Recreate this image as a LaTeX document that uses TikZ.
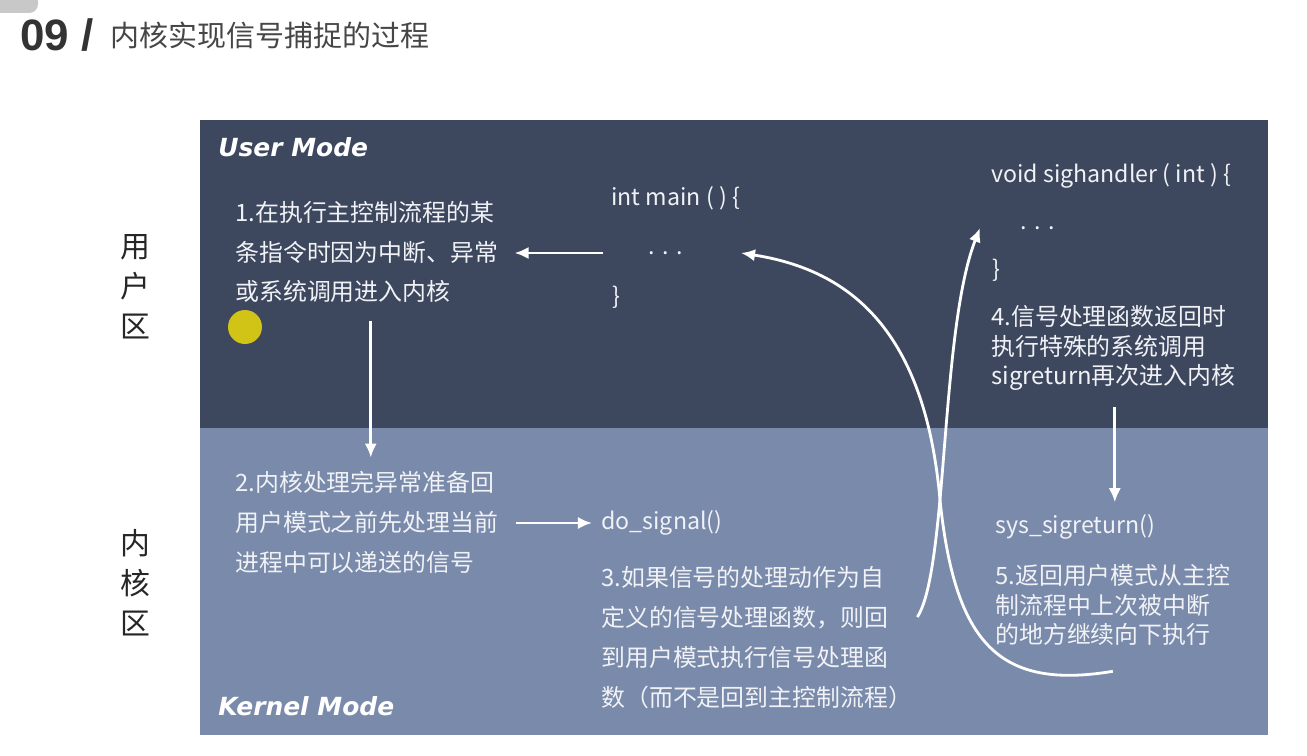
\documentclass[tikz,border=0pt]{standalone}
\usepackage{fontspec}
\setmainfont{Noto Sans CJK SC}
\newfontfamily\modefont{DejaVu Sans}
\newfontfamily\numfont{Liberation Sans}
\usepackage{tikz}
\usetikzlibrary{arrows.meta,positioning,calc}
\definecolor{UserBg}{RGB}{61,71,94}
\definecolor{KernelBg}{RGB}{122,138,170}
\definecolor{NoteWhite}{RGB}{240,242,246}
\definecolor{TitleDark}{RGB}{51,51,51}
\definecolor{TitleGray}{RGB}{70,70,70}
\definecolor{MarkYellow}{RGB}{210,196,22}
\definecolor{CornerGray}{RGB}{200,200,200}
\tikzset{
  modelbl/.style={font=\modefont\bfseries\itshape\fontsize{14.2}{16}\selectfont,
    text=white,anchor=west,inner sep=0},
  stepnote/.style={font=\fontsize{13.6}{22.7}\selectfont,text=NoteWhite,
    align=left,anchor=west,inner sep=0},
  tightnote/.style={stepnote,font=\fontsize{13.6}{17}\selectfont},
  codeln/.style={font=\fontsize{13.2}{16}\selectfont,text=NoteWhite,
    anchor=west,inner sep=0},
  zonelbl/.style={font=\fontsize{17}{22.7}\selectfont,text=black!85,
    align=center,inner sep=0},
  flow/.style={-{Latex[length=8pt,width=7pt]},line width=1.6pt,white}
}

\begin{document}
\begin{tikzpicture}[x=0.02cm,y=-0.02cm]

\fill[white] (0,0) rectangle (1307,756);
\useasboundingbox (0,0) rectangle (1307,756);
\fill[CornerGray,rounded corners=5pt] (-12,-12) rectangle (38,13);

% title
\node[anchor=west,inner sep=0,text=TitleDark,
  font=\numfont\bfseries\fontsize{25}{28}\selectfont] (num) at (20,35) {09 /};
\node[anchor=west,inner sep=0,text=TitleGray,
  font=\fontsize{16.5}{20}\selectfont] (ttl) at (110,35) {内核实现信号捕捉的过程};

% the two modes
\fill[UserBg] (200,120) rectangle (1268,428);
\fill[KernelBg] (200,428) rectangle (1268,735);
\node[modelbl] (um) at (218,147) {User Mode};
\node[modelbl] (km) at (218,706) {Kernel Mode};

\node[zonelbl] (uz) at (135,287) {用\\户\\区};
\node[zonelbl] (kz) at (135,583) {内\\核\\区};

\fill[MarkYellow] (245,327) circle (0.34cm);

% user side
\node[stepnote] (t1) at (235,252) {1.在执行主控制流程的某\\条指令时因为中断、异常\\或系统调用进入内核};
\node[codeln] (mhead) at (611,198) {int main ( ) \{};
\node[codeln] (mdots) at (648,253) {.\,\,.\,\,.};
\node[codeln] (mclose) at (612,297) {\}};

\node[codeln] (hhead) at (991,176) {void sighandler ( int ) \{};
\node[codeln] (hdots) at (1020,228) {.\,\,.\,\,.};
\node[codeln] (hclose) at (992,270) {\}};
\node[tightnote] (t4) at (991,348) {4.信号处理函数返回时\\执行特殊的系统调用\\sigreturn再次进入内核};

% kernel side
\node[stepnote] (t2) at (235,522) {2.内核处理完异常准备回\\用户模式之前先处理当前\\进程中可以递送的信号};
\node[codeln] (dosig) at (601,523) {do\_signal()};
\node[stepnote] (t3) at (601,637.5) {3.如果信号的处理动作为自\\定义的信号处理函数，则回\\到用户模式执行信号处理函\\数（而不是回到主控制流程）};
\node[codeln] (sysret) at (995,527) {sys\_sigreturn()};
\node[tightnote] (t5) at (995,605) {5.返回用户模式从主控\\制流程中上次被中断\\的地方继续向下执行};

% arrows
\draw[flow] ([xshift=-0.9cm]mdots.west) -- ([xshift=0.32cm]t1.east |- mdots.west);
\draw[flow] ([xshift=0.08cm,yshift=-0.35cm]t1.south) -- ([xshift=0.08cm,yshift=0.26cm]t2.north);
\draw[flow] ([xshift=0.34cm]t2.east |- dosig.west) -- ([xshift=-0.18cm]dosig.west);
\draw[flow] ([shift={(0.1cm,0.41cm)}]t3.east) .. controls (948,570) and (940,330) .. ([xshift=-0.8cm]hdots.west);
\draw[flow] ([xshift=0.03cm,yshift=-0.32cm]t4.south) -- ([xshift=0.03cm,yshift=0.24cm]t4.south |- sysret.north);
\draw[flow] ([yshift=-0.5cm]t5.south) .. controls (1000,690) and (955,645) .. (940,500)
  .. controls (925,330) and (850,270) .. ([xshift=1.15cm]mdots.east);

\end{tikzpicture}
\end{document}
